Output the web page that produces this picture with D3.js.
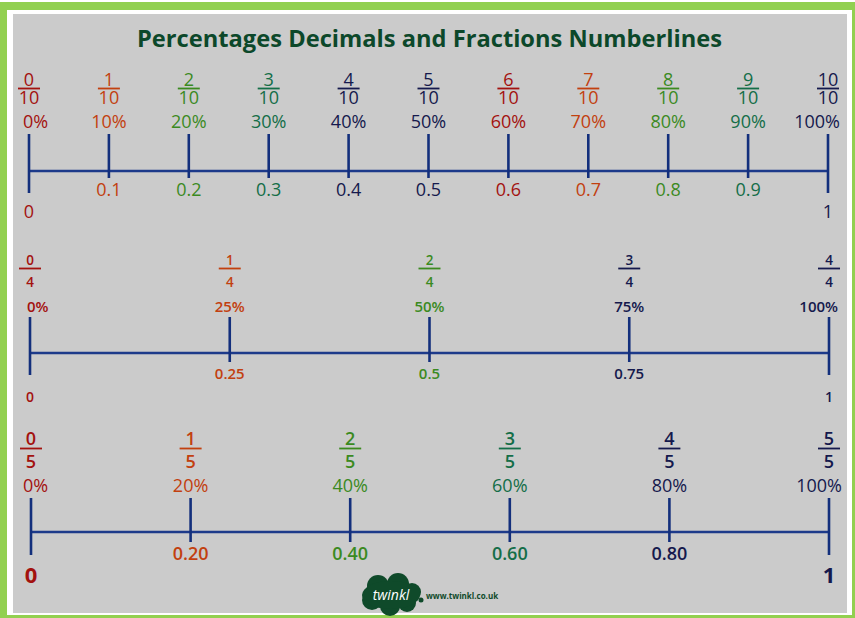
<!DOCTYPE html>
<html>
<head>
<meta charset="utf-8">
<script src="https://cdn.jsdelivr.net/npm/d3@7"></script>
<style>
  html, body { margin: 0; padding: 0; background: #ffffff; }
  svg { display: block; }
  text { font-family: "Open Sans", "Noto Sans", sans-serif; }
</style>
</head>
<body>
<svg id="chart" width="855" height="618"></svg>
<script>
// ---------------- DATA ----------------
const titleText = "Percentages Decimals and Fractions Numberlines";

// Tenths number line
const tenthNumerators = [0, 1, 2, 3, 4, 5, 6, 7, 8, 9, 10];
const tenthDenominator = 10;
const tenthPercents = ["0%", "10%", "20%", "30%", "40%", "50%", "60%", "70%", "80%", "90%", "100%"];
const tenthDecimals = ["0", "0.1", "0.2", "0.3", "0.4", "0.5", "0.6", "0.7", "0.8", "0.9", "1"];

// Quarters number line
const quarterNumerators = [0, 1, 2, 3, 4];
const quarterDenominator = 4;
const quarterPercents = ["0%", "25%", "50%", "75%", "100%"];
const quarterDecimals = ["0", "0.25", "0.5", "0.75", "1"];

// Fifths number line
const fifthNumerators = [0, 1, 2, 3, 4, 5];
const fifthDenominator = 5;
const fifthPercents = ["0%", "20%", "40%", "60%", "80%", "100%"];
const fifthDecimals = ["0", "0.20", "0.40", "0.60", "0.80", "1"];

// ---------------- STYLES ----------------
const RED = "#a3120f", ORANGE = "#c2400f", GREEN = "#3b8a1f", TEAL = "#146e48", NAVY = "#15194d";
const tenthColors = [RED, ORANGE, GREEN, TEAL, NAVY, NAVY, RED, ORANGE, GREEN, TEAL, NAVY];
const quarterColors = [RED, ORANGE, GREEN, NAVY, NAVY];
const fifthColors = [RED, ORANGE, GREEN, TEAL, NAVY, NAVY];

const svg = d3.select("#chart");

// Frame
svg.append("rect").attr("x", 0).attr("y", 0).attr("width", 855).attr("height", 618).attr("fill", "#ffffff");
svg.append("rect").attr("x", 0).attr("y", 2).attr("width", 855).attr("height", 616).attr("fill", "#92d050");
svg.append("rect").attr("x", 7).attr("y", 10).attr("width", 845).attr("height", 605).attr("fill", "#ffffff");
svg.append("rect").attr("x", 13).attr("y", 14).attr("width", 834).attr("height", 599).attr("fill", "#cbcbcb");

// Title
svg.append("text")
  .attr("x", 429.5).attr("y", 47)
  .attr("text-anchor", "middle")
  .attr("font-size", 22.5).attr("font-weight", 700)
  .attr("textLength", 585).attr("lengthAdjust", "spacingAndGlyphs")
  .attr("fill", "#0c482a")
  .text(titleText);

function drawLine(cfg) {
  const x = d3.scaleLinear().domain([0, 1]).range(cfg.range);
  const items = cfg.numerators.map((n, i) => ({
    n, d: cfg.denominator, v: n / cfg.denominator,
    pct: cfg.percents[i], dec: cfg.decimals[i], color: cfg.colors[i], i
  }));
  const last = items.length - 1;
  const g = svg.append("g");

  // axis line
  g.append("line")
    .attr("x1", x(0)).attr("x2", x(1))
    .attr("y1", cfg.axisY).attr("y2", cfg.axisY)
    .attr("stroke", "#1d3a8a").attr("stroke-width", 2.5);

  // ticks
  g.selectAll("line.tick").data(items).join("line")
    .attr("class", "tick")
    .attr("x1", d => x(d.v)).attr("x2", d => x(d.v))
    .attr("y1", cfg.tickTop)
    .attr("y2", d => (d.i === 0 || d.i === last) ? cfg.endBot : cfg.tickBot)
    .attr("stroke", "#132f7c").attr("stroke-width", 2.6);

  // fractions (numerator and denominator in one text element)
  const fr = g.selectAll("g.frac").data(items).join("g")
    .attr("class", "frac")
    .attr("transform", d => `translate(${x(d.v)},0)`);
  const ft = fr.append("text")
    .attr("text-anchor", "middle")
    .attr("font-size", cfg.fracSize).attr("font-weight", cfg.fracWeight)
    .attr("fill", d => d.color);
  ft.append("tspan").attr("x", 0).attr("y", cfg.numY).text(d => d.n);
  ft.append("tspan").attr("x", 0).attr("y", cfg.denY).text(d => d.d);
  fr.append("line")
    .attr("x1", -11).attr("x2", 11)
    .attr("y1", cfg.barY).attr("y2", cfg.barY)
    .attr("stroke", d => d.color).attr("stroke-width", 1.8);

  // percents
  g.selectAll("text.pct").data(items).join("text")
    .attr("class", "pct")
    .attr("x", d => d.i === 0 ? x(d.v) - cfg.pctIn : d.i === last ? x(d.v) + cfg.pctOut : x(d.v))
    .attr("y", cfg.pctY)
    .attr("text-anchor", d => d.i === 0 ? "start" : d.i === last ? "end" : "middle")
    .attr("font-size", cfg.pctSize).attr("font-weight", cfg.pctWeight)
    .attr("fill", d => d.color).text(d => d.pct);

  // decimals
  g.selectAll("text.dec").data(items).join("text")
    .attr("class", "dec")
    .attr("x", d => x(d.v))
    .attr("y", d => (d.i === 0 || d.i === last) ? cfg.endDecY : cfg.decY)
    .attr("text-anchor", "middle")
    .attr("font-size", d => (d.i === 0 || d.i === last) ? cfg.endSize : cfg.decSize)
    .attr("font-weight", d => (d.i === 0 || d.i === last) ? cfg.endWeight : cfg.decWeight)
    .attr("fill", d => d.color).text(d => d.dec);
}

drawLine({
  numerators: tenthNumerators, denominator: tenthDenominator,
  percents: tenthPercents, decimals: tenthDecimals, colors: tenthColors,
  range: [29, 828], axisY: 171, tickTop: 134, tickBot: 178, endBot: 193,
  numY: 86, barY: 88.5, denY: 104, pctY: 128, decY: 196, endDecY: 218,
  fracSize: 18, fracWeight: 400, pctSize: 18, pctWeight: 400, pctIn: 6, pctOut: 12,
  decSize: 18, decWeight: 400, endSize: 18, endWeight: 400
});

drawLine({
  numerators: quarterNumerators, denominator: quarterDenominator,
  percents: quarterPercents, decimals: quarterDecimals, colors: quarterColors,
  range: [30, 829], axisY: 353, tickTop: 317, tickBot: 362, endBot: 375,
  numY: 265, barY: 268.5, denY: 287, pctY: 312, decY: 379, endDecY: 402,
  fracSize: 13.5, fracWeight: 600, pctSize: 15, pctWeight: 600, pctIn: 3, pctOut: 9,
  decSize: 15, decWeight: 600, endSize: 14, endWeight: 600
});

drawLine({
  numerators: fifthNumerators, denominator: fifthDenominator,
  percents: fifthPercents, decimals: fifthDecimals, colors: fifthColors,
  range: [31, 829], axisY: 532, tickTop: 498, tickBot: 542, endBot: 555,
  numY: 445, barY: 448.5, denY: 468, pctY: 492, decY: 560, endDecY: 583,
  fracSize: 18, fracWeight: 600, pctSize: 18, pctWeight: 400, pctIn: 8, pctOut: 13,
  decSize: 18, decWeight: 600, endSize: 22, endWeight: 700
});

// Logo
const logo = svg.append("g").attr("fill", "#0f4a2a");
[[378, 586, 11], [398, 584, 11], [412, 592, 9], [372, 600, 10], [390, 606, 10], [407, 603, 9]]
  .forEach(([cx, cy, r]) => logo.append("circle").attr("cx", cx).attr("cy", cy).attr("r", r));
logo.append("ellipse").attr("cx", 391).attr("cy", 595).attr("rx", 29).attr("ry", 14);
logo.append("circle").attr("cx", 421).attr("cy", 600).attr("r", 2.5);
svg.append("text")
  .attr("x", 391).attr("y", 600).attr("text-anchor", "middle")
  .attr("font-size", 14).attr("font-style", "italic").attr("font-weight", 500)
  .attr("fill", "#ffffff").text("twinkl");
svg.append("text")
  .attr("x", 426).attr("y", 599)
  .attr("font-size", 8).attr("font-weight", 700)
  .attr("fill", "#0f4a2a").text("www.twinkl.co.uk");
</script>
</body>
</html>
